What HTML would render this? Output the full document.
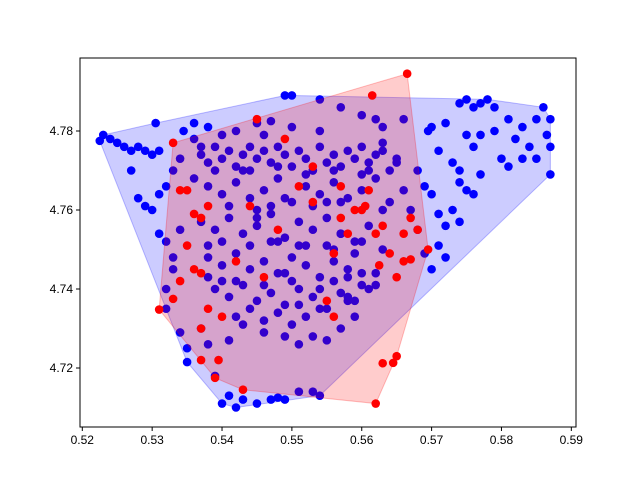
<!DOCTYPE html>
<html><head><meta charset="utf-8"><style>
body{margin:0;background:#fff}
svg text{font-family:"Liberation Sans","DejaVu Sans",sans-serif;font-size:12px;fill:#000}
</style></head><body>
<svg id="chart" width="640" height="480"></svg>
<script>
const blueX=[0.5225,0.523,0.524,0.525,0.526,0.527,0.528,0.529,0.530,0.531,0.5305,0.527,0.528,0.529,0.530,0.531,0.532,0.533,0.534,0.531,0.532,0.533,0.532,0.532,0.534,0.535,0.535,0.533,0.534,0.5345,0.536,0.536,
0.537,0.538,0.540,0.542,0.545,0.547,0.549,0.550,0.554,0.557,0.560,0.562,0.563,0.566,
0.570,0.572,0.574,0.575,0.576,0.577,0.578,0.579,0.581,0.583,0.585,0.586,0.587,0.5865,0.587,0.585,0.583,0.581,0.580,0.579,0.577,0.576,0.575,0.574,0.573,0.574,0.575,0.576,0.573,0.574,0.572,0.571,0.570,0.569,0.568,0.5695,0.571,0.577,0.587,0.584,0.582,0.571,0.572,0.570,0.569,0.568,0.567,
0.540,0.541,0.542,0.543,0.545,0.547,0.549,0.551,0.553,0.554,0.548,0.539,0.538,0.537,0.541,0.543,0.546,0.549,0.551,0.553,0.555,0.557,0.559,0.558,
0.537,0.538,0.539,0.540,0.541,0.542,0.543,0.544,0.545,0.546,0.547,0.548,0.549,0.550,0.551,0.552,0.553,0.554,0.555,0.556,0.557,0.558,0.559,0.560,0.561,0.562,0.563,0.564,0.565,
0.538,0.540,0.542,0.544,0.546,0.548,0.550,0.552,0.554,0.556,0.558,0.560,0.562,0.564,
0.537,0.539,0.541,0.543,0.545,0.547,0.549,0.551,0.553,0.555,0.557,0.559,0.561,0.563,
0.538,0.540,0.542,0.544,0.546,0.548,0.550,0.552,0.554,0.556,0.558,0.560,0.562,
0.539,0.541,0.543,0.545,0.547,0.549,0.551,0.553,0.555,0.557,0.559,0.561,
0.536,0.538,0.540,0.542,0.544,0.546,0.548,0.550,0.552,0.554,0.556,0.558,0.560,
0.545,0.547,0.549,0.551,0.553,0.555,0.557,0.546,0.550,0.554,0.544,0.548,0.552,0.556,0.560,0.563,0.565,0.566,
0.539,0.541,0.543,0.545,0.547,0.549,0.551,0.553,0.555,0.557,0.559,0.561,0.563,
0.538,0.542,0.546,0.550,0.554,0.558,0.562,0.540,0.544,0.548,0.552,0.556,0.560];
const blueY=[4.7775,4.779,4.778,4.777,4.776,4.775,4.776,4.775,4.774,4.775,4.782,4.770,4.763,4.761,4.760,4.764,4.766,4.770,4.773,4.754,4.752,4.745,4.740,4.735,4.729,4.725,4.7215,4.748,4.755,4.780,4.782,4.778,
4.776,4.781,4.779,4.780,4.782,4.7825,4.789,4.789,4.788,4.786,4.784,4.783,4.781,4.783,
4.781,4.782,4.787,4.788,4.786,4.787,4.788,4.786,4.783,4.781,4.783,4.786,4.783,4.779,4.776,4.773,4.773,4.771,4.773,4.780,4.779,4.776,4.779,4.770,4.772,4.767,4.765,4.764,4.760,4.757,4.756,4.759,4.764,4.766,4.770,4.780,4.775,4.769,4.769,4.776,4.778,4.751,4.748,4.745,4.749,4.755,4.760,
4.711,4.713,4.710,4.712,4.711,4.712,4.712,4.714,4.714,4.713,4.7125,4.718,4.726,4.730,4.727,4.731,4.729,4.728,4.726,4.728,4.727,4.730,4.733,4.737,
4.774,4.772,4.776,4.773,4.775,4.771,4.774,4.776,4.773,4.775,4.772,4.776,4.774,4.771,4.775,4.773,4.770,4.776,4.772,4.774,4.771,4.775,4.773,4.776,4.772,4.774,4.777,4.770,4.773,
4.766,4.764,4.767,4.763,4.765,4.768,4.762,4.766,4.764,4.767,4.763,4.765,4.768,4.762,
4.757,4.755,4.758,4.754,4.756,4.759,4.753,4.757,4.755,4.758,4.754,4.752,4.756,4.750,
4.748,4.746,4.749,4.745,4.747,4.744,4.748,4.746,4.743,4.747,4.745,4.741,4.744,
4.740,4.738,4.741,4.737,4.739,4.736,4.740,4.738,4.735,4.739,4.737,4.740,
4.768,4.751,4.742,4.733,4.735,4.732,4.734,4.731,4.733,4.735,4.742,4.738,4.744,
4.760,4.752,4.744,4.736,4.770,4.762,4.754,4.779,4.781,4.780,4.770,4.771,4.769,4.770,4.769,4.775,4.772,4.765,
4.770,4.761,4.770,4.758,4.761,4.763,4.751,4.761,4.751,4.762,4.749,4.770,4.760,
4.743,4.742,4.741,4.742,4.740,4.743,4.741,4.752,4.751,4.752,4.751,4.750,4.752];
const redX=[0.531,0.533,0.534,0.535,0.535,0.536,0.537,0.538,0.536,0.537,0.538,0.537,0.537,0.539,0.5395,0.543,0.540,0.542,0.544,0.545,0.549,0.551,0.553,0.553,0.555,0.556,0.557,0.558,0.559,0.560,0.5605,0.561,0.5615,0.562,0.5625,0.562,0.563,0.5645,0.565,0.563,0.564,0.565,0.566,0.567,0.566,0.567,0.5665,0.568,0.5695,0.556,0.557,0.533,0.534,0.548,0.546];
const redY=[4.7348,4.7375,4.742,4.751,4.765,4.759,4.758,4.761,4.745,4.744,4.735,4.730,4.722,4.7175,4.722,4.7145,4.733,4.747,4.761,4.783,4.778,4.766,4.771,4.762,4.737,4.749,4.758,4.754,4.760,4.760,4.761,4.765,4.789,4.754,4.746,4.711,4.7212,4.7213,4.723,4.756,4.749,4.743,4.747,4.7475,4.754,4.758,4.7945,4.755,4.750,4.733,4.766,4.777,4.765,4.755,4.743];
const xTicks=[0.52,0.53,0.54,0.55,0.56,0.57,0.58,0.59];
const yTicks=[4.72,4.74,4.76,4.78];

const L=80,R=576,T=58,B=427;
const sx=v=>82.3+(v-0.52)*6986;
const sy=v=>131+(4.78-v)*3950;
const NS="http://www.w3.org/2000/svg";
const svg=document.getElementById('chart');
function mk(t,a){const e=document.createElementNS(NS,t);for(const k in a)e.setAttribute(k,a[k]);return e;}
function hull(xs,ys){
  const p=xs.map((x,i)=>[sx(x),sy(ys[i])]).sort((a,b)=>a[0]-b[0]||a[1]-b[1]);
  const cr=(o,a,b)=>(a[0]-o[0])*(b[1]-o[1])-(a[1]-o[1])*(b[0]-o[0]);
  const lo=[],up=[];
  for(const q of p){while(lo.length>=2&&cr(lo[lo.length-2],lo[lo.length-1],q)<=0)lo.pop();lo.push(q);}
  for(const q of p.slice().reverse()){while(up.length>=2&&cr(up[up.length-2],up[up.length-1],q)<=0)up.pop();up.push(q);}
  return lo.slice(0,-1).concat(up.slice(0,-1)).map(q=>q.join(',')).join(' ');
}
const g=mk('g',{});


svg.appendChild(g);
blueX.forEach((x,i)=>{const c=mk('circle',{cx:sx(x),cy:sy(blueY[i]),r:4.3,fill:'#0000ff'});


g.appendChild(c);});
const bh=mk('polygon',{points:hull(blueX,blueY),fill:'rgba(0,0,255,0.2)',stroke:'rgba(0,0,255,0.25)'});


g.appendChild(bh);
redX.forEach((x,i)=>{const c=mk('circle',{cx:sx(x),cy:sy(redY[i]),r:4.3,fill:'#ff0000'});


g.appendChild(c);});
const rh=mk('polygon',{points:hull(redX,redY),fill:'rgba(255,0,0,0.2)',stroke:'rgba(255,0,0,0.25)'});


g.appendChild(rh);
const fr=mk('rect',{x:L,y:T,width:R-L,height:B-T,fill:'none',stroke:'#000','stroke-width':1});


svg.appendChild(fr);
xTicks.forEach(v=>{const x=sx(v);
svg.appendChild(mk('line',{x1:x,x2:x,y1:B,y2:B+4,stroke:'#000'}));
const t=mk('text',{x:x,y:B+17,'text-anchor':'middle'});t.textContent=v.toFixed(2);


svg.appendChild(t);});
yTicks.forEach(v=>{const y=sy(v);
svg.appendChild(mk('line',{x1:L-4,x2:L,y1:y,y2:y,stroke:'#000'}));
const t=mk('text',{x:L-7,y:y+4,'text-anchor':'end'});t.textContent=v.toFixed(2);


svg.appendChild(t);});
</script>
</body></html>
